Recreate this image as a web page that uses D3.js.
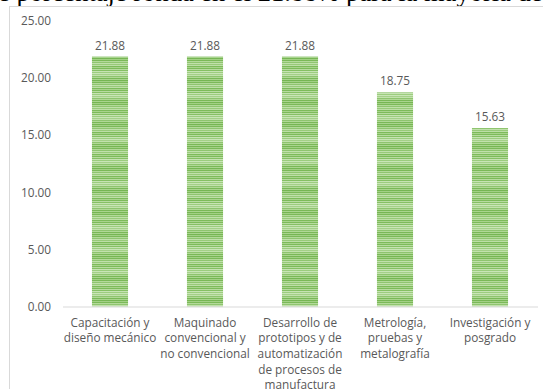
<!DOCTYPE html>
<html>
<head>
<meta charset="utf-8">
<script src="https://cdn.jsdelivr.net/npm/d3@7"></script>
<style>
  html, body { margin: 0; padding: 0; background: #fff; }
  svg { display: block; }
</style>
</head>
<body>
<svg id="chart" width="543" height="389"></svg>
<script>
// Chart data
const categories = [
  ["Capacitación y", "diseño mecánico"],
  ["Maquinado", "convencional y", "no convencional"],
  ["Desarrollo de", "prototipos y de", "automatización", "de procesos de", "manufactura"],
  ["Metrología,", "pruebas y", "metalografía"],
  ["Investigación y", "posgrado"]
];
const values = [21.88, 21.88, 21.88, 18.75, 15.63];
const yTicks = [0, 5, 10, 15, 20, 25];
const precedingText = "e porcentaje ronda en el 21.88% para la mayoría de";

const svg = d3.select("#chart");
const textColor = "#595959";
const font = "'Open Sans', sans-serif";
const fontSize = 11.8;

// Fragment of the paragraph above the figure
svg.append("text")
  .attr("x", -2).attr("y", 0.5)
  .attr("font-family", "'Liberation Serif', 'Times New Roman', serif")
  .attr("font-size", 26.5)
  .attr("fill", "#000")
  .text(precedingText);

// Chart frame
svg.append("rect")
  .attr("x", 9.5).attr("y", 6.5)
  .attr("width", 560).attr("height", 400)
  .attr("fill", "#fff")
  .attr("stroke", "#d9d9d9")
  .attr("stroke-width", 1);

// Striped green fill for the bars
const defs = svg.append("defs");
const pat = defs.append("pattern")
  .attr("id", "stripes")
  .attr("patternUnits", "userSpaceOnUse")
  .attr("width", 40).attr("height", 22);
const stripeRows = [
  "#7dbb5a", "#a8d38c", "#7dbb5a", "#b7dba0", "#86c064", "#c6e3b3", "#9ccd7e", "#c9e5b7",
  "#a4d088", "#c2e1ad", "#8ec46e", "#b0d896", "#7ab857", "#a9d48e", "#76b653", "#a2d085",
  "#7bb958", "#b3d99a", "#8fc56f", "#c0e0ab", "#98ca79", "#bddea7"
];
stripeRows.forEach((c, i) => {
  pat.append("rect").attr("x", 0).attr("y", i).attr("width", 40).attr("height", 1).attr("fill", c);
});

const x = d3.scaleBand()
  .domain(d3.range(categories.length))
  .range([62.5, 537.5])
  .paddingInner(0.62)
  .paddingOuter(0.31);

const y = d3.scaleLinear().domain([0, 25]).range([306.5, 21]);

// Y axis labels
const yAxis = svg.append("g")
  .attr("transform", "translate(56,0)")
  .call(d3.axisLeft(y).tickValues(yTicks).tickFormat(d3.format(".2f")).tickSize(0).tickPadding(5));
yAxis.select(".domain").remove();
yAxis.selectAll("text")
  .attr("font-family", font).attr("font-size", fontSize).attr("fill", textColor);

// Bars
svg.append("g").selectAll("rect")
  .data(values)
  .join("rect")
  .attr("x", (d, i) => x(i))
  .attr("width", x.bandwidth())
  .attr("y", d => y(d))
  .attr("height", d => y(0) - y(d))
  .attr("fill", "url(#stripes)");

// Value labels
svg.append("g").selectAll("text")
  .data(values)
  .join("text")
  .attr("x", (d, i) => x(i) + x.bandwidth() / 2)
  .attr("y", d => y(d) - 7)
  .attr("text-anchor", "middle")
  .attr("font-family", font).attr("font-size", fontSize).attr("fill", textColor)
  .text(d => d3.format(".2f")(d));

// X axis line and category labels
const xAxis = svg.append("g")
  .attr("transform", `translate(0,${y(0)})`)
  .call(d3.axisBottom(x).tickSize(0).tickFormat(""));
xAxis.select(".domain").attr("stroke", "#d9d9d9").attr("stroke-width", 1.2);

const labels = svg.append("g").selectAll("text")
  .data(categories)
  .join("text")
  .attr("text-anchor", "middle")
  .attr("font-family", font).attr("font-size", fontSize).attr("fill", textColor)
  .attr("transform", (d, i) => `translate(${x(i) + x.bandwidth() / 2},326.5)`);
labels.selectAll("tspan")
  .data(d => d)
  .join("tspan")
  .attr("x", 0)
  .attr("y", (d, j) => j * 15.7)
  .text(d => d);
</script>
</body>
</html>
